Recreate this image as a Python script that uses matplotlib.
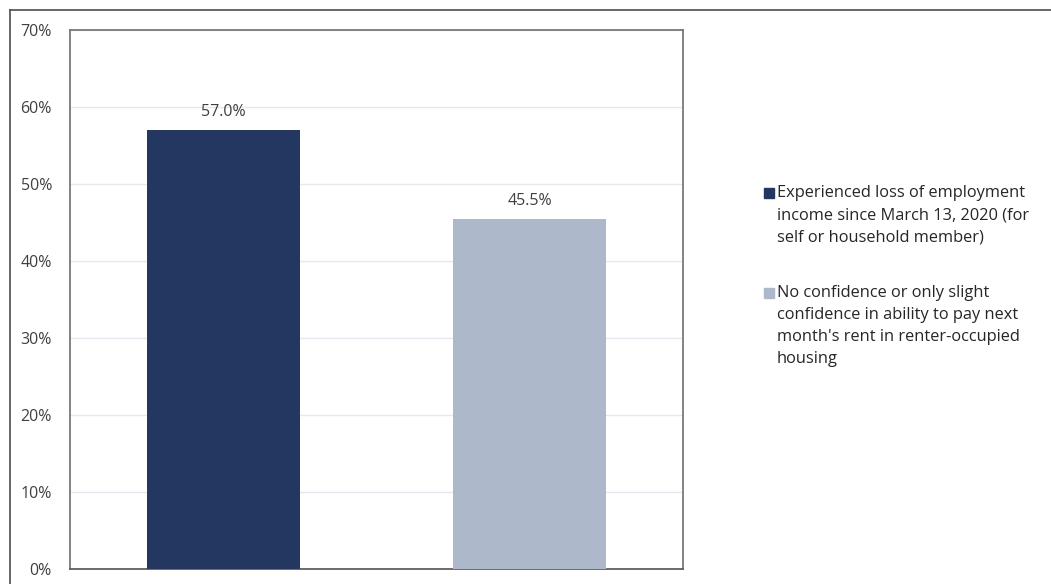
import matplotlib

matplotlib.use("Agg")
import matplotlib.pyplot as plt
from matplotlib.lines import Line2D
from matplotlib.patches import Rectangle
from matplotlib.ticker import PercentFormatter

plt.rcParams["font.family"] = ["Open Sans", "DejaVu Sans"]

categories = [
    "Experienced loss of employment\nincome since March 13, 2020 (for\nself or household member)",
    "No confidence or only slight\nconfidence in ability to pay next\nmonth's rent in renter-occupied\nhousing",
]
values = [57.0, 45.5]
colors = ["#243760", "#adb9ca"]
yticks = [0, 10, 20, 30, 40, 50, 60, 70]

W, H = 1051, 584
fig = plt.figure(figsize=(W / 100, H / 100), dpi=100)
fig.patch.set_facecolor("white")

# frame running off the right and bottom edges
fig.add_artist(Line2D([10 / W, 1], [1 - 10 / H, 1 - 10 / H], color="#5a5a5a", lw=1.3))
fig.add_artist(Line2D([10 / W, 10 / W], [0, 1 - 10 / H], color="#5a5a5a", lw=1.3))

ax = fig.add_axes([70 / W, 15 / H, 613 / W, 539 / H])
x = range(len(values))
ax.bar(x, values, width=0.5, color=colors, zorder=3)

for xi, v in zip(x, values):
    ax.text(xi, v + 1.3, f"{v:.1f}%", ha="center", va="bottom",
            fontsize=11.5, color="#404040")

ax.set_xlim(-0.5, 1.5)
ax.set_ylim(0, 70)
ax.set_yticks(yticks)
ax.yaxis.set_major_formatter(PercentFormatter(decimals=0))
ax.set_xticks([])
ax.tick_params(axis="y", length=0, pad=13, labelsize=11.5, labelcolor="#404040")
ax.grid(axis="y", color="#e6e8f0", lw=1, zorder=0)
for sp in ax.spines.values():
    sp.set_color("#7a7a7a")
    sp.set_linewidth(1.3)
ax.spines["bottom"].set_color("#606060")

# legend: square marker aligned with the first line of each label
line_step = 22
item_tops = [193, 293]
for label, color, y0 in zip(categories, colors, item_tops):
    fig.add_artist(Rectangle((764 / W, 1 - (y0 + 5) / H), 10 / W, 10 / H,
                             color=color, transform=fig.transFigure))
    for i, line in enumerate(label.split("\n")):
        fig.text(777 / W, 1 - (y0 + i * line_step) / H, line, ha="left",
                 va="center", fontsize=11.8, color="#262626")

fig.savefig("out.png", dpi=100)
